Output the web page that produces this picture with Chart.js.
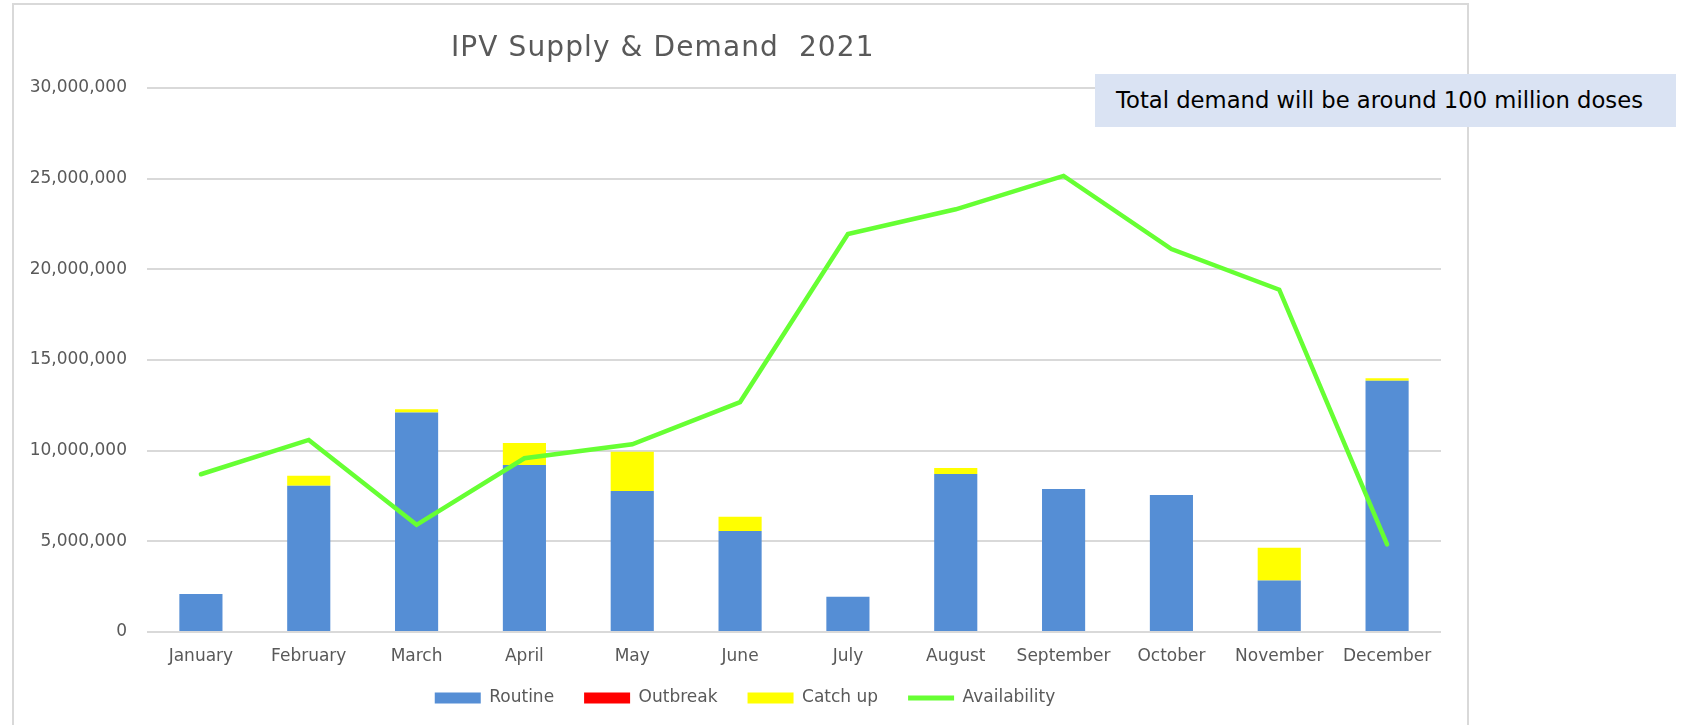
<!DOCTYPE html>
<html>
<head>
<meta charset="utf-8">
<script src="https://cdn.jsdelivr.net/npm/chart.js@4/dist/chart.umd.min.js"></script>
<style>
  body { margin: 0; background: #fff; }
  #wrap { position: relative; width: 1682px; height: 725px; overflow: hidden; }
  #frame { position: absolute; left: 12px; top: 3px; width: 1453px; height: 800px; border: 2px solid #d9d9d9; }
  #chart { position: absolute; left: 0; top: 0; }
  #title { position: absolute; left: 451px; top: 33px; font: 28px "DejaVu Sans"; line-height: 28px; letter-spacing: 1.1px; color: #595959; white-space: pre; }
  #note { position: absolute; left: 1095px; top: 74px; width: 581px; height: 53px; background: #dae3f3; font: 22.7px "DejaVu Sans"; line-height: 53px; color: #000; white-space: nowrap; box-sizing: border-box; padding-left: 21px; }
</style>
</head>
<body>
<div id="wrap">
  <div id="frame"></div>
  <canvas id="chart" width="1682" height="725"></canvas>
  <div id="title">IPV Supply &amp; Demand  2021</div>
  <div id="note">Total demand will be around 100 million doses</div>
</div>
<script>
// dados
const months = ['January', 'February', 'March', 'April', 'May', 'June', 'July', 'August', 'September', 'October', 'November', 'December'];
const routine = [2090000, 8060000, 12110000, 9210000, 7780000, 5570000, 1950000, 8720000, 7880000, 7550000, 2840000, 13860000];
const outbreak = [0, 0, 0, 0, 0, 0, 0, 0, 0, 0, 0, 0];
const catchUp = [0, 550000, 170000, 1210000, 2160000, 780000, 0, 320000, 0, 0, 1800000, 140000];
const availability = [8700000, 10590000, 5910000, 9580000, 10350000, 12680000, 21950000, 23310000, 25150000, 21120000, 18880000, 4830000];
const yTicks = [0, 5000000, 10000000, 15000000, 20000000, 25000000, 30000000];

const grey = '#595959';
const font = { family: 'DejaVu Sans', size: 17 };

// empurra a legenda para a posição do original
const legendShift = {
    id: 'legendShift',
    afterLayout(c) {
        c.legend.left += 49;
        c.legend.top -= 6.5;
        c.legend.bottom -= 6.5;
    }
};

const ctx = document.getElementById('chart').getContext('2d');
const chart = new Chart(ctx, {
    type: 'bar',
    data: {
        labels: months,
        datasets: [
            { label: 'Routine', data: routine, backgroundColor: '#558ed5', order: 1, stack: 'd' },
            { label: 'Outbreak', data: outbreak, backgroundColor: '#ff0000', order: 1, stack: 'd' },
            { label: 'Catch up', data: catchUp, backgroundColor: '#ffff00', order: 1, stack: 'd' },
            {
                type: 'line', label: 'Availability', data: availability, stack: 'a', order: 0,
                borderColor: '#66ff33', backgroundColor: '#66ff33', borderWidth: 4.5,
                pointRadius: 0, tension: 0, borderCapStyle: 'round', fill: false
            }
        ]
    },
    plugins: [legendShift],
    options: {
        responsive: false,
        animation: false,
        categoryPercentage: 1,
        barPercentage: 0.4,
        layout: { padding: { left: 0, right: 241, top: 88, bottom: 2 } },
        scales: {
            x: {
                stacked: true,
                grid: { display: false, drawTicks: false },
                border: { display: false },
                ticks: { font: font, color: grey, padding: 14, maxRotation: 0 },
                afterFit: (s) => { s.height = 34; }
            },
            y: {
                stacked: true,
                min: 0, max: 30000000,
                afterBuildTicks: (s) => { s.ticks = yTicks.map(v => ({ value: v })); },
                grid: { color: '#d9d9d9', lineWidth: 2, drawTicks: false },
                border: { display: false },
                ticks: { font: font, color: grey, padding: 20, callback: (v) => v.toLocaleString('en-US') },
                afterFit: (s) => { s.width = 147; }
            }
        },
        plugins: {
            tooltip: { enabled: false },
            legend: {
                position: 'bottom',
                labels: {
                    font: font, color: grey, padding: 30,
                    usePointStyle: true, pointStyleWidth: 46, boxHeight: 11,
                    sort: (a, b) => a.datasetIndex - b.datasetIndex,
                    generateLabels: (c) => {
                        const items = Chart.defaults.plugins.legend.labels.generateLabels(c);
                        items.forEach((it) => {
                            const ds = c.data.datasets[it.datasetIndex];
                            if (ds.type === 'line') {
                                it.pointStyle = 'line';
                                it.lineWidth = 5;
                                it.strokeStyle = ds.borderColor;
                            } else {
                                it.pointStyle = 'rect';
                                it.lineWidth = 0;
                            }
                        });
                        return items;
                    }
                }
            }
        }
    }
});
</script>
</body>
</html>
